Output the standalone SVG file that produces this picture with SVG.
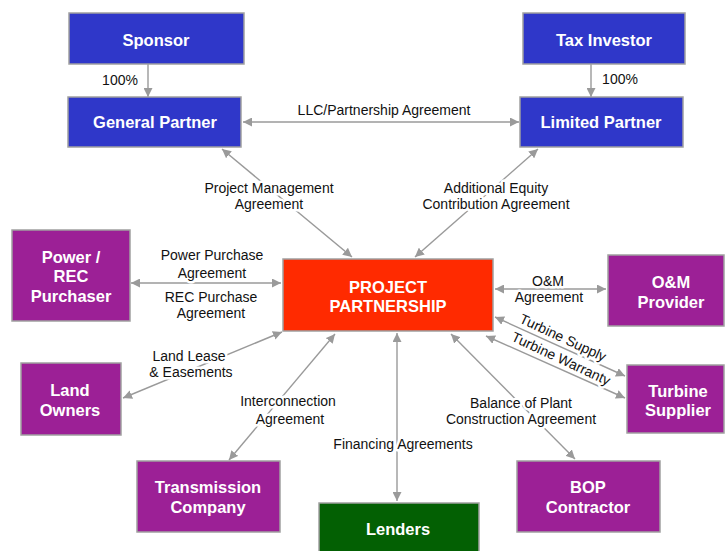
<svg xmlns="http://www.w3.org/2000/svg" width="725" height="551" viewBox="0 0 725 551">
<defs>
<style>
.box{stroke:#a0a0a0;stroke-width:1.5}
.blue{fill:#2f37c9}
.purple{fill:#9c2096}
.red{fill:#ff2a00}
.green{fill:#036003}
.nt{font-family:"Liberation Sans",Arial,sans-serif;font-weight:bold;font-size:16.5px;fill:#fff;text-anchor:middle}
.lt{font-family:"Liberation Sans",Arial,sans-serif;font-size:14px;fill:#111;text-anchor:middle;paint-order:stroke;stroke:#fff;stroke-width:5px;stroke-linejoin:round}
.ln{stroke:#9a9a9a;stroke-width:1.4;fill:none}
</style>
<marker id="ah" viewBox="0 0 10 10" refX="10" refY="5" markerWidth="9" markerHeight="9" markerUnits="userSpaceOnUse" orient="auto-start-reverse">
<path d="M0,0 L10,5 L0,10 z" fill="#9a9a9a"/>
</marker>
</defs>
<rect width="725" height="551" fill="#fff"/>
<g id="connectors">
<line class="ln" x1="148" y1="64" x2="148" y2="97" marker-end="url(#ah)"/>
<line class="ln" x1="591" y1="64" x2="591" y2="97" marker-end="url(#ah)"/>
<line class="ln" x1="243" y1="122" x2="519" y2="122" marker-start="url(#ah)" marker-end="url(#ah)"/>
<line class="ln" x1="222" y1="149" x2="352" y2="257" marker-start="url(#ah)" marker-end="url(#ah)"/>
<line class="ln" x1="538" y1="149" x2="415" y2="257" marker-start="url(#ah)" marker-end="url(#ah)"/>
<line class="ln" x1="131" y1="283" x2="281" y2="283" marker-start="url(#ah)" marker-end="url(#ah)"/>
<line class="ln" x1="495" y1="289" x2="606" y2="289" marker-start="url(#ah)" marker-end="url(#ah)"/>
<line class="ln" x1="495" y1="317" x2="625" y2="376" marker-start="url(#ah)" marker-end="url(#ah)"/>
<line class="ln" x1="486" y1="336" x2="625" y2="398" marker-start="url(#ah)" marker-end="url(#ah)"/>
<line class="ln" x1="123" y1="398" x2="282" y2="332" marker-start="url(#ah)" marker-end="url(#ah)"/>
<line class="ln" x1="229" y1="460" x2="335" y2="334" marker-start="url(#ah)" marker-end="url(#ah)"/>
<line class="ln" x1="397" y1="333" x2="397" y2="501" marker-start="url(#ah)" marker-end="url(#ah)"/>
<line class="ln" x1="451" y1="334" x2="575" y2="459" marker-start="url(#ah)" marker-end="url(#ah)"/>
<text class="lt" x="120" y="85">100%</text>
<text class="lt" x="620" y="84">100%</text>
<text class="lt" x="384" y="115">LLC/Partnership Agreement</text>
<text class="lt" x="269" y="193">Project Management</text>
<text class="lt" x="269" y="209">Agreement</text>
<text class="lt" x="496" y="193">Additional Equity</text>
<text class="lt" x="496" y="209">Contribution Agreement</text>
<text class="lt" x="212" y="260">Power Purchase</text>
<text class="lt" x="212" y="278">Agreement</text>
<text class="lt" x="211" y="302">REC Purchase</text>
<text class="lt" x="211" y="318">Agreement</text>
<text class="lt" x="548" y="286">O&amp;M</text>
<text class="lt" x="549" y="302">Agreement</text>
<text class="lt" transform="translate(561,342) rotate(25)">Turbine Supply</text>
<text class="lt" transform="translate(559,363) rotate(25)">Turbine Warranty</text>
<text class="lt" x="189" y="361">Land Lease</text>
<text class="lt" x="191" y="377">&amp; Easements</text>
<text class="lt" x="288" y="406">Interconnection</text>
<text class="lt" x="290" y="424">Agreement</text>
<text class="lt" x="403" y="449">Financing Agreements</text>
<text class="lt" x="521" y="408">Balance of Plant</text>
<text class="lt" x="521" y="424">Construction Agreement</text>
</g>
<g id="sponsor"><rect class="box blue" x="69" y="13" width="175" height="51"/><text class="nt" x="156" y="46">Sponsor</text></g>
<g id="general-partner"><rect class="box blue" x="68" y="97" width="173" height="50"/><text class="nt" x="155" y="128">General Partner</text></g>
<g id="tax-investor"><rect class="box blue" x="523" y="13" width="162" height="51"/><text class="nt" x="604" y="46">Tax Investor</text></g>
<g id="limited-partner"><rect class="box blue" x="520" y="97" width="163" height="50"/><text class="nt" x="601" y="128">Limited Partner</text></g>
<g id="power-rec-purchaser"><rect class="box purple" x="12" y="230" width="118" height="91"/><text class="nt" x="71" y="263">Power /</text><text class="nt" x="71" y="282">REC</text><text class="nt" x="71" y="302">Purchaser</text></g>
<g id="project-partnership"><rect class="box red" x="283" y="259" width="210" height="72"/><text class="nt" x="388" y="293">PROJECT</text><text class="nt" x="388" y="312">PARTNERSHIP</text></g>
<g id="om-provider"><rect class="box purple" x="608" y="255" width="116" height="71"/><text class="nt" x="671" y="288">O&amp;M</text><text class="nt" x="671" y="308">Provider</text></g>
<g id="turbine-supplier"><rect class="box purple" x="627" y="365" width="97" height="68"/><text class="nt" x="678" y="397">Turbine</text><text class="nt" x="678" y="416">Supplier</text></g>
<g id="land-owners"><rect class="box purple" x="21" y="363" width="100" height="72"/><text class="nt" x="70" y="396">Land</text><text class="nt" x="70" y="416">Owners</text></g>
<g id="transmission-company"><rect class="box purple" x="137" y="461" width="143" height="71"/><text class="nt" x="208" y="493">Transmission</text><text class="nt" x="208" y="513">Company</text></g>
<g id="lenders"><rect class="box green" x="319" y="503" width="160" height="60"/><text class="nt" x="398" y="535">Lenders</text></g>
<g id="bop-contractor"><rect class="box purple" x="517" y="461" width="143" height="71"/><text class="nt" x="588" y="493">BOP</text><text class="nt" x="588" y="513">Contractor</text></g>
</svg>
